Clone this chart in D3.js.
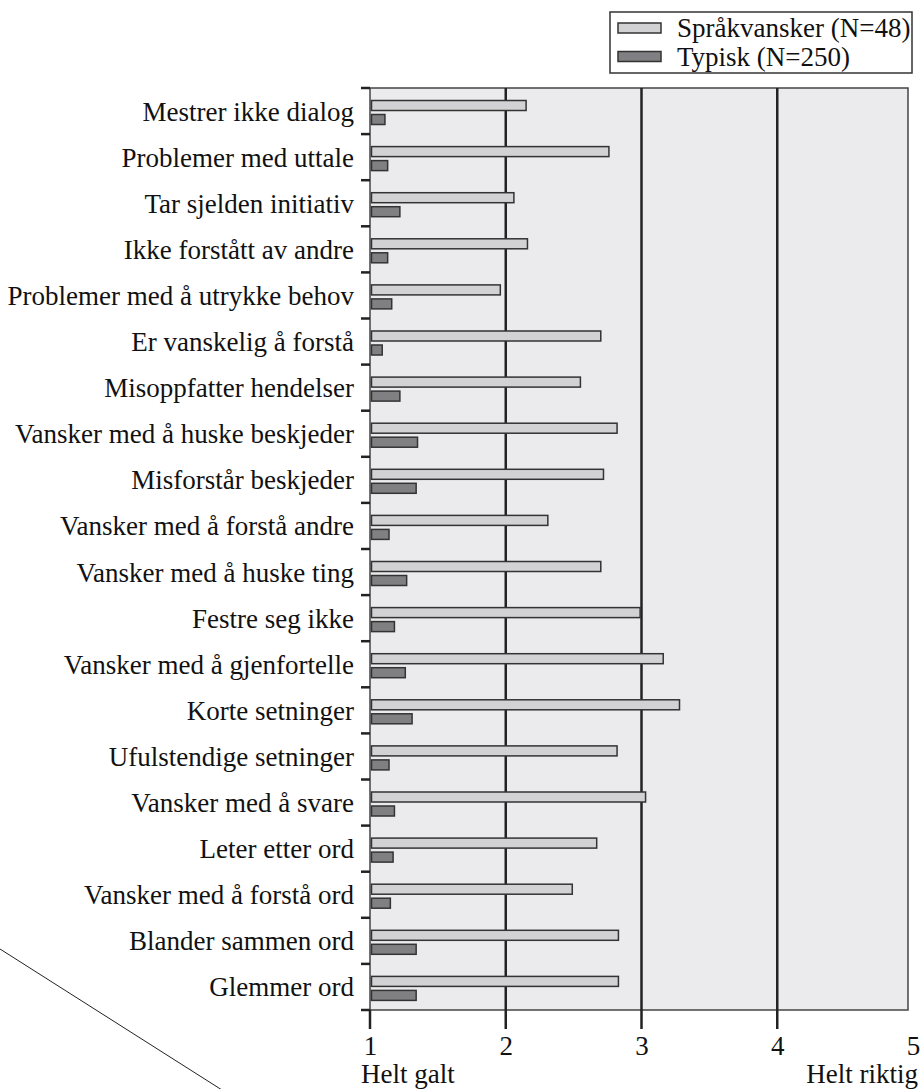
<!DOCTYPE html>
<html>
<head>
<meta charset="utf-8">
<script src="https://cdn.jsdelivr.net/npm/d3@7"></script>
<style>
  body { margin: 0; background: #fff; }
  svg { display: block; }
  svg text { font-family: "Liberation Serif", "Times New Roman", Times, serif; }
</style>
</head>
<body>
<div id="chart"></div>
<script>
// Data
var categories = [
    "Mestrer ikke dialog",
    "Problemer med uttale",
    "Tar sjelden initiativ",
    "Ikke forstått av andre",
    "Problemer med å utrykke behov",
    "Er vanskelig å forstå",
    "Misoppfatter hendelser",
    "Vansker med å huske beskjeder",
    "Misforstår beskjeder",
    "Vansker med å forstå andre",
    "Vansker med å huske ting",
    "Festre seg ikke",
    "Vansker med å gjenfortelle",
    "Korte setninger",
    "Ufulstendige setninger",
    "Vansker med å svare",
    "Leter etter ord",
    "Vansker med å forstå ord",
    "Blander sammen ord",
    "Glemmer ord"
];
var sprakvansker = [2.15, 2.76, 2.06, 2.16, 1.96, 2.70, 2.55, 2.82, 2.72, 2.31,
                    2.70, 2.99, 3.16, 3.28, 2.82, 3.03, 2.67, 2.49, 2.83, 2.83];
var typisk = [1.11, 1.13, 1.22, 1.13, 1.16, 1.09, 1.22, 1.35, 1.34, 1.14,
              1.27, 1.18, 1.26, 1.31, 1.14, 1.18, 1.17, 1.15, 1.34, 1.34];
var seriesNames = ["Språkvansker (N=48)", "Typisk (N=250)"];
var xTicks = [1, 2, 3, 4, 5];
var xEndLabels = ["Helt galt", "Helt riktig"];

var colors = ["#d2d2d4", "#808082"];
var fontSize = 27;

// Dimensions
var width = 920, height = 1089;
var plot = {left: 370, top: 88, right: 913, bottom: 1010};

var svg = d3.select("#chart")
    .append("svg")
    .attr("width", width)
    .attr("height", height);

// Scales
var x = d3.scaleLinear()
    .domain([1, 5])
    .range([plot.left, plot.right]);

var y = d3.scaleBand()
    .domain(categories)
    .range([plot.top, plot.bottom]);

// Plot background
svg.append("rect")
    .attr("x", plot.left)
    .attr("y", plot.top)
    .attr("width", 538)
    .attr("height", plot.bottom - plot.top)
    .attr("fill", "#ebebed")
    .attr("stroke", "#444")
    .attr("stroke-width", 1.5);

// Grid lines (2,3,4) running down into ticks
svg.selectAll("line.grid")
    .data(xTicks.slice(0, 4))
    .enter()
    .append("line")
    .attr("class", "grid")
    .attr("x1", function (d) { return x(d); })
    .attr("x2", function (d) { return x(d); })
    .attr("y1", function (d) { return d === 1 ? plot.bottom : plot.top; })
    .attr("y2", plot.bottom + 19)
    .attr("stroke", "#222")
    .attr("stroke-width", 2.5);

// Left tick marks on band boundaries
var boundaries = categories.map(function (c) { return y(c); }).concat([plot.bottom]);
svg.selectAll("line.ytick")
    .data(boundaries)
    .enter()
    .append("line")
    .attr("class", "ytick")
    .attr("x1", plot.left - 9)
    .attr("x2", plot.left)
    .attr("y1", function (d) { return d; })
    .attr("y2", function (d) { return d; })
    .attr("stroke", "#222")
    .attr("stroke-width", 2.5);

// Bars
var rows = svg.selectAll("g.row")
    .data(categories)
    .enter()
    .append("g")
    .attr("class", "row")
    .attr("transform", function (d) { return "translate(0," + y(d) + ")"; });

rows.append("rect")
    .attr("x", x(1) + 1.5)
    .attr("y", 12.5)
    .attr("width", function (d, i) { return x(sprakvansker[i]) - x(1) - 1.5; })
    .attr("height", 10)
    .attr("fill", colors[0])
    .attr("stroke", "#333")
    .attr("stroke-width", 1.5);

rows.append("rect")
    .attr("x", x(1) + 1.5)
    .attr("y", 26.5)
    .attr("width", function (d, i) { return x(typisk[i]) - x(1) - 1.5; })
    .attr("height", 10)
    .attr("fill", colors[1])
    .attr("stroke", "#333")
    .attr("stroke-width", 1.5);

// Y axis labels
var yAxis = svg.append("g")
    .attr("transform", "translate(" + (plot.left - 16) + ",0)")
    .call(d3.axisLeft(y).tickSize(0).tickPadding(0));
yAxis.attr("font-family", null).attr("font-size", null);
yAxis.select(".domain").remove();
yAxis.selectAll("text")
    .attr("font-size", fontSize)
    .attr("fill", "#111")
    .attr("dy", "0.35em");

// X axis labels
var xAxis = svg.append("g")
    .attr("transform", "translate(0," + (plot.bottom + 45) + ")")
    .call(d3.axisBottom(x).tickValues(xTicks).tickSize(0).tickPadding(0).tickFormat(d3.format("d")));
xAxis.attr("font-family", null).attr("font-size", null);
xAxis.select(".domain").remove();
xAxis.selectAll("text")
    .attr("font-size", fontSize)
    .attr("fill", "#111")
    .attr("y", 0)
    .attr("dy", 0);

svg.append("text")
    .attr("x", x(1) - 9)
    .attr("y", 1083)
    .attr("font-size", fontSize)
    .attr("fill", "#111")
    .text(xEndLabels[0]);

svg.append("text")
    .attr("x", 918)
    .attr("y", 1083)
    .attr("text-anchor", "end")
    .attr("font-size", fontSize)
    .attr("fill", "#111")
    .text(xEndLabels[1]);

// Legend
var legend = svg.append("g");
legend.append("rect")
    .attr("x", 610)
    .attr("y", 12)
    .attr("width", 302)
    .attr("height", 61)
    .attr("fill", "#fff")
    .attr("stroke", "#333")
    .attr("stroke-width", 1.5);

var items = legend.selectAll("g.item")
    .data(seriesNames)
    .enter()
    .append("g")
    .attr("class", "item")
    .attr("transform", function (d, i) { return "translate(618," + (23 + i * 28.5) + ")"; });

items.append("rect")
    .attr("width", 43)
    .attr("height", 10)
    .attr("fill", function (d, i) { return colors[i]; })
    .attr("stroke", "#333")
    .attr("stroke-width", 1.5);

items.append("text")
    .attr("x", 59)
    .attr("y", 5)
    .attr("dy", "0.35em")
    .attr("font-size", fontSize)
    .attr("fill", "#111")
    .text(function (d) { return d; });

// Stray diagonal line in lower-left corner
svg.append("line")
    .attr("x1", 0)
    .attr("y1", 949)
    .attr("x2", 222)
    .attr("y2", 1090)
    .attr("stroke", "#222")
    .attr("stroke-width", 1);
</script>
</body>
</html>
